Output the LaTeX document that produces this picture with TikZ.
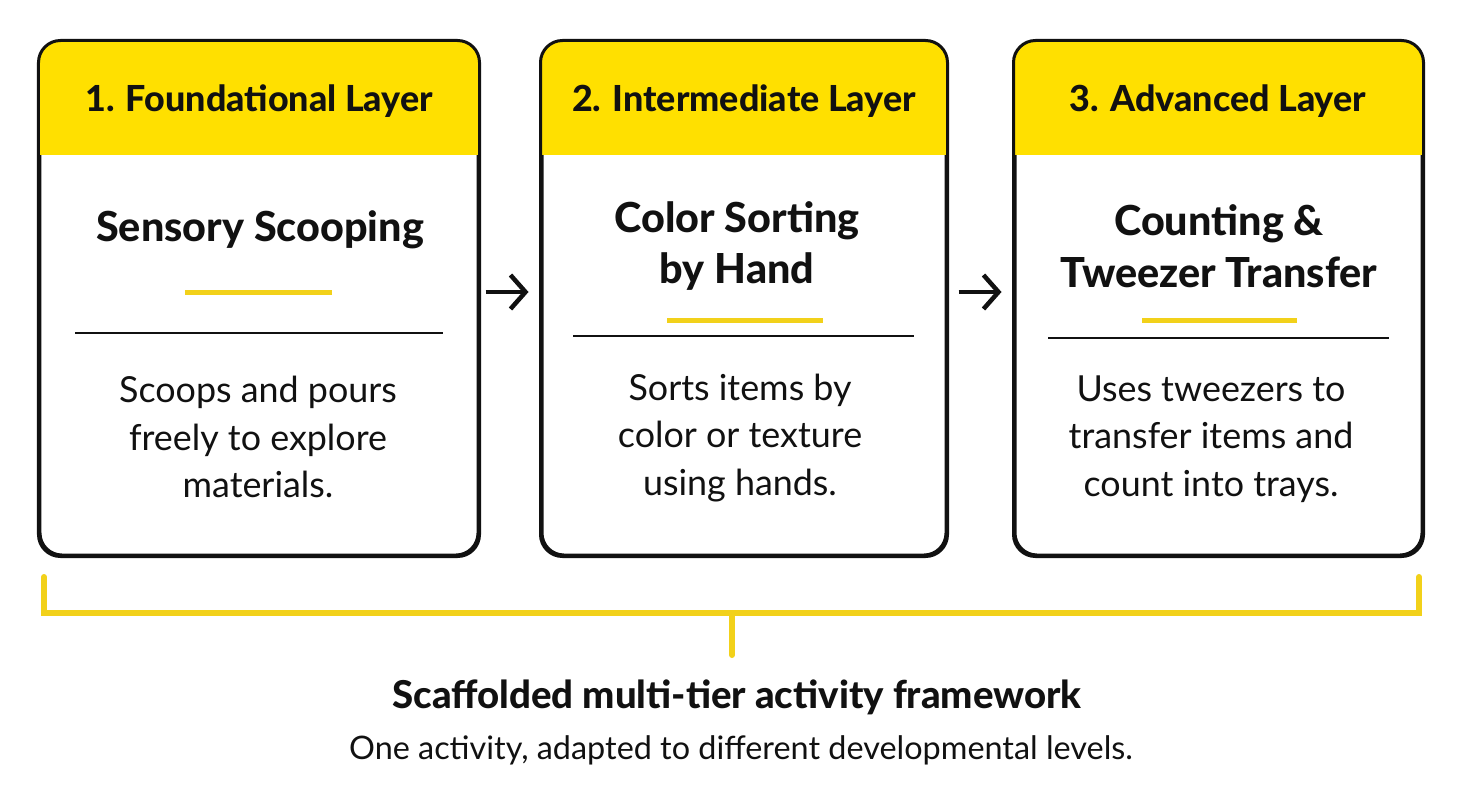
\documentclass[tikz,border=0pt]{standalone}
\usepackage{fontspec}
\setmainfont{Lato}[BoldFont={Lato Heavy}]
\usetikzlibrary{arrows.meta}
\definecolor{hdr}{HTML}{FFE000}
\definecolor{accent}{HTML}{F2D11A}
\definecolor{ink}{HTML}{111111}
\tikzset{
  x=1bp, y=-1bp,
  card/.style={draw=ink, line width=3bp, rounded corners=22bp, minimum width=#1, minimum height=513bp, inner sep=0pt},
  hdrtext/.style={font=\fontsize{36}{40}\selectfont\bfseries, text=ink},
  ttl/.style={font=\fontsize{41.5}{52}\selectfont\bfseries, text=ink, align=center},
  body/.style={font=\fontsize{36}{47.5}\selectfont, text=ink, align=center},
  accentline/.style={draw=accent, line width=5bp},
  sepline/.style={draw=ink, line width=2bp},
  arr/.style={draw=ink, line width=4.5bp, -{Straight Barb[length=15bp, width=34bp, line width=4.5bp]}},
  bracket/.style={draw=accent, line width=6bp, line cap=round},
}
\begin{document}
\begin{tikzpicture}
\useasboundingbox[fill=white] (0,0) rectangle (1464,808);
% cards
\node[card=438bp] (c1) at (259,298.5) {};
\node[card=404bp] (c2) at (744,298.5) {};
\node[card=407bp] (c3) at (1218.5,298.5) {};
\foreach \c in {c1,c2,c3}{
  \begin{scope}
    \clip[rounded corners=22bp] (\c.north west) rectangle (\c.south east);
    \fill[hdr] (\c.north west) rectangle (\c.east |- 0,155);
  \end{scope}
  \draw[card=0bp] (\c.north west) rectangle (\c.south east);
}
% headers
\node[hdrtext] (h1) at (259,101) {1. Foundational Layer};
\node[hdrtext] (h2) at (744,101) {2. Intermediate Layer};
\node[hdrtext] (h3) at (1218,101) {3. Advanced Layer};
% titles
\node[ttl] (t1) at (260,230) {Sensory Scooping};
\node[ttl] (t2) at (737,246) {Color Sorting\\by Hand};
\node[ttl] (t3) at (1219,246) {Counting \&\\Tweezer Transfer};
% separators
\draw[accentline] (185,292) -- (332,292);
\draw[sepline] (75,333) -- (443,333);
\draw[accentline] (667,320) -- (823,320);
\draw[sepline] (573,336) -- (914,336);
\draw[accentline] (1142,320) -- (1297,320);
\draw[sepline] (1048,338) -- (1389,338);
% body
\node[body] (b1) at (258,437) {Scoops and pours\\freely to explore\\materials.};
\node[body] (b2) at (740,438) {Sorts items by\\color or texture\\using hands.};
\node[body] (b3) at (1211,439) {Uses tweezers to\\transfer items and\\count into trays.};
% arrows
\draw[arr, shorten <=6bp, shorten >=12bp] ([yshift=6.5bp]c1.east) -- ([yshift=6.5bp]c2.west);
\draw[arr, shorten <=11bp, shorten >=12bp] ([yshift=6.5bp]c2.east) -- ([yshift=6.5bp]c3.west);
% bracket
\coordinate (bl) at (44,577);
\coordinate (br) at (1419,577);
\coordinate (bm) at (732,613);
\coordinate (bt) at (732,655);
\draw[bracket] (bl) -- (bl |- bm) -- (br |- bm) -- (br);
\draw[bracket] (bm) -- (bt);
% caption
\node[font=\fontsize{38.5}{44}\selectfont\bfseries, text=ink] (cap) at (737,697) {Scaffolded multi-tier activity framework};
\node[font=\fontsize{32.5}{36}\selectfont, text=ink] (sub) at (741,750) {One activity, adapted to different developmental levels.};
\end{tikzpicture}
\end{document}
